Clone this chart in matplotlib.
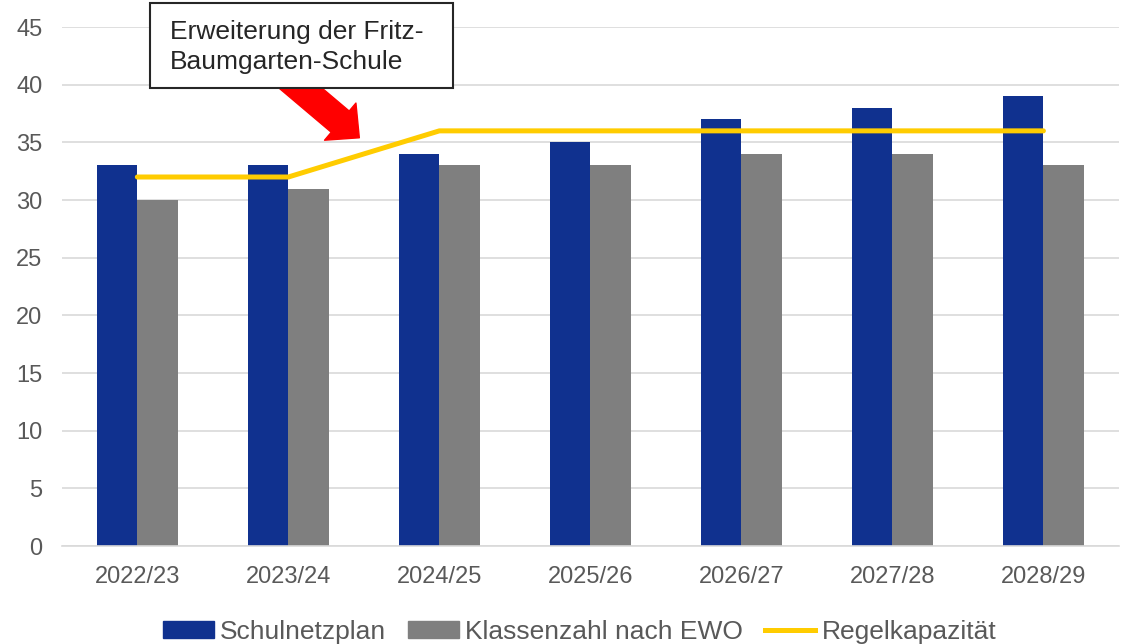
import numpy as np
import matplotlib.pyplot as plt
from matplotlib.patches import Patch, Rectangle
from matplotlib.lines import Line2D

plt.rcParams['font.family'] = ['Liberation Sans', 'DejaVu Sans']

years = ['2022/23', '2023/24', '2024/25', '2025/26', '2026/27', '2027/28', '2028/29']
schulnetzplan = [33, 33, 34, 35, 37, 38, 39]
ewo = [30, 31, 33, 33, 34, 34, 33]
regelkapazitaet = [32, 32, 36, 36, 36, 36, 36]

blue = '#10318F'
grey = '#7F7F7F'
yellow = '#FFCC00'

W, H = 1124, 644
fig = plt.figure(figsize=(W / 100, H / 100), dpi=100)
ax = fig.add_axes([0.055, 0.152, 0.9405, 0.806])

x = np.arange(len(years))
w = 0.27
ax.bar(x - w / 2, schulnetzplan, w, color=blue, zorder=2)
ax.bar(x + w / 2, ewo, w, color=grey, zorder=2)
ax.plot(x, regelkapazitaet, color=yellow, linewidth=3.6, solid_capstyle='round', zorder=3)

ax.set_ylim(0, 45)
ax.set_xlim(-0.5, len(years) - 0.5)
ax.set_yticks(range(0, 46, 5))
ax.set_xticks(x)
ax.set_xticklabels(years)
ax.grid(axis='y', color='#D9D9D9', linewidth=1.2, zorder=0)
ax.set_axisbelow(True)
for s in ['top', 'right', 'left']:
    ax.spines[s].set_visible(False)
ax.spines['bottom'].set_color('#D9D9D9')
ax.spines['bottom'].set_linewidth(1.2)
ax.tick_params(axis='both', length=0, labelsize=17, colors='#595959')
ax.tick_params(axis='x', pad=14)
ax.tick_params(axis='y', pad=14)

# red arrow pointing to the capacity step
ax.annotate('', xy=(1.47, 35.4), xytext=(1.0, 40.6),
            arrowprops=dict(arrowstyle='simple,head_width=3.5,head_length=1.8,tail_width=2.0',
                            color='#FF0000', shrinkA=0, shrinkB=0), zorder=4)

# text box
fig.add_artist(Rectangle((150 / W, 1 - 88 / H), 303 / W, 85 / H, transform=fig.transFigure,
                         facecolor='white', edgecolor='#262626', linewidth=1.5, zorder=5))
fig.text(170 / W, 1 - 32 / H, 'Erweiterung der Fritz-', fontsize=19, color='#262626',
         va='center', ha='left', zorder=6)
fig.text(170 / W, 1 - 62 / H, 'Baumgarten-Schule', fontsize=19, color='#262626',
         va='center', ha='left', zorder=6)

handles = [Patch(color=blue), Patch(color=grey),
           Line2D([0], [0], color=yellow, linewidth=3.6)]
fig.legend(handles, ['Schulnetzplan', 'Klassenzahl nach EWO', 'Regelkapazität'],
           loc='center', bbox_to_anchor=(0.5156, 0.019), ncol=3, frameon=False,
           fontsize=19, handlelength=1.93, handleheight=0.57, handletextpad=0.23,
           columnspacing=0.83, labelcolor='#595959', borderaxespad=0, borderpad=0)

fig.savefig('out.png', dpi=100)
